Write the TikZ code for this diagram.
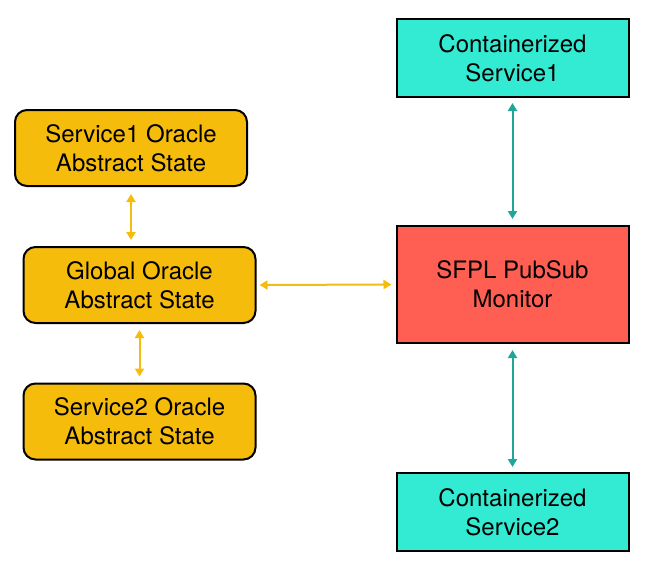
\documentclass[tikz,border=0pt]{standalone}
\usepackage{fontspec}
\setmainfont{TeX Gyre Heros}
\usetikzlibrary{arrows.meta}

\definecolor{oracleorange}{HTML}{F6BC0B}
\definecolor{containerteal}{HTML}{33EBD2}
\definecolor{monitorred}{HTML}{FF5F52}
\definecolor{linkteal}{HTML}{1FA698}

\tikzset{
  box/.style={draw=black, line width=2pt, align=center, inner sep=0pt,
    minimum width=232pt, font=\fontsize{24}{29}\selectfont},
  oraclebox/.style={box, fill=oracleorange, rounded corners=12pt, minimum height=76pt},
  containerbox/.style={box, fill=containerteal, minimum height=78pt},
  monitorbox/.style={box, fill=monitorred, minimum height=117pt},
  orangelink/.style={draw=oracleorange, line width=2pt, {Triangle[width=9pt,length=8pt]}-{Triangle[width=9pt,length=8pt]}},
  teallink/.style={draw=linkteal, line width=2pt, {Triangle[width=9pt,length=8pt]}-{Triangle[width=9pt,length=8pt]}}
}

\begin{document}
\begin{tikzpicture}[x=1pt,y=-1pt]
\useasboundingbox (0,0) rectangle (649,568);
% right column
\node[containerbox] (cs1) at (512.5,58) {Containerized\\Service1};
\node[monitorbox] (mon) at (512.5,284.5) {SFPL PubSub\\Monitor};
\node[containerbox] (cs2) at (512.5,512) {Containerized\\Service2};
% left column
\node[oraclebox] (so1) at (131,148) {Service1 Oracle\\Abstract State};
\node[oraclebox] (go) at (139.5,285) {Global Oracle\\Abstract State};
\node[oraclebox] (so2) at (139.5,421.5) {Service2 Oracle\\Abstract State};
% links
\draw[teallink] ([yshift=-5pt]cs1.south) -- ([yshift=6pt]mon.north);
\draw[teallink] ([yshift=-6pt]mon.south) -- ([yshift=5pt]cs2.north);
\draw[orangelink] ([xshift=3pt]go.east) -- ([xshift=-4pt]mon.west);
\draw[orangelink] ([yshift=-7pt]so1.south) -- ([yshift=6pt]so1.south |- go.north);
\draw[orangelink] ([yshift=-6pt]go.south) -- ([yshift=6pt]so2.north);
\end{tikzpicture}
\end{document}
